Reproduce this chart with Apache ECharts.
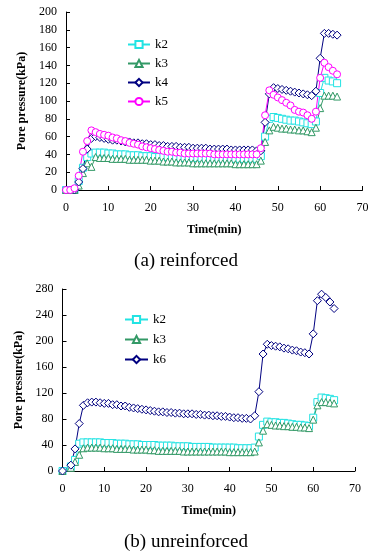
<!DOCTYPE html>
<html><head><meta charset="utf-8">
<script src="https://cdn.jsdelivr.net/npm/echarts@6/dist/echarts.min.js"></script>
<style>html,body{margin:0;padding:0;background:#fff}#c{width:372px;height:555px}</style>
</head><body><div id="c"></div>
<script>
// ---- Chart (a) reinforced ----
var timeA = [0,1,2,3,4,5,6,7,8,9,10,11,12,13,14,15,16,17,18,19,20,21,22,23,24,25,26,27,28,29,30,31,32,33,34,35,36,37,38,39,40,41,42,43,44,45,46,47,48,49,50,51,52,53,54,55,56,57,58,59,60,61,62,63,64];
var k2A = [0,0,0,10,25,37,41,42,42,42,41,41,40,40,40,39,39,39,38,38,38,37,37,37,37,36,36,36,36,36,36,36,36,35,35,35,35,35,35,35,35,35,35,35,35,35,38,60,80,82,81,80,79,78,78,77,76,75,74,77,109,126,123,122,120];
var k3A = [0,0,0,5,19,30,26,37,36,36,36,35,35,35,35,34,34,34,34,34,33,33,33,32,32,32,31,31,31,31,30,30,30,30,30,30,30,30,30,30,29,29,29,29,29,29,33,54,67,71,70,69,69,68,68,67,67,66,65,70,92,106,106,106,105];
var k4A = [0,0,0,9,24,46,58,60,59,58,57,56,56,55,54,54,53,53,52,52,51,51,50,50,49,49,49,48,48,48,47,47,47,47,46,46,46,46,46,45,45,45,45,45,45,44,44,76,108,115,114,113,112,111,110,109,108,107,106,111,148,176,176,175,174];
var k5A = [0,0,2,16,43,55,67,65,63,62,61,59,58,56,55,53,52,51,49,48,47,46,45,44,43,43,42,42,41,41,41,41,41,41,41,40,40,40,40,40,40,40,40,40,40,40,47,84,112,107,104,101,98,95,90,88,87,84,80,88,126,143,138,134,130];
// ---- Chart (b) unreinforced ----
var timeB = [0,2,3,4,5,6,7,8,9,10,11,12,13,14,15,16,17,18,19,20,21,22,23,24,25,26,27,28,29,30,31,32,33,34,35,36,37,38,39,40,41,42,43,44,45,46,47,48,49,50,51,52,53,54,55,56,57,58,59,60,61,62,63,64,65];
var k2B = [0,7,17,42,44,44,44,44,44,43,43,43,42,42,42,41,41,41,40,40,40,40,39,39,39,39,38,38,38,38,37,37,37,37,37,36,36,36,36,36,36,35,35,35,35,36,53,71,76,75,75,74,74,73,72,71,71,70,69,82,106,113,112,111,109];
var k3B = [0,5,14,25,35,36,36,36,36,35,35,35,34,34,34,34,33,33,33,33,32,32,31,31,31,31,31,31,30,30,30,30,30,30,30,30,30,30,30,29,29,29,29,29,29,30,44,62,72,71,70,70,69,69,68,68,67,67,66,79,101,106,106,105,104];
var k6B = [0,9,34,73,101,105,106,106,105,104,104,102,102,100,100,98,97,96,95,94,93,92,91,91,90,90,89,89,88,88,88,87,87,86,86,85,85,84,84,83,82,82,81,81,80,85,122,180,195,193,192,191,189,188,186,185,183,182,180,211,262,272,267,260,250];

var xTicksA = [0,10,20,30,40,50,60,70];
var yTicksA = [0,20,40,60,80,100,120,140,160,180,200];
var xTicksB = [0,10,20,30,40,50,60,70];
var yTicksB = [0,40,80,120,160,200,240,280];

function pairs(t, v){ var out=[]; for (var i=0;i<t.length;i++) out.push([t[i], v[i]]); return out; }

var FONT = '"Liberation Serif", "Times New Roman", serif';
var C = {k2:'#22E3E3', k3:'#339966', k4:'#000080', k5:'#FF00FF', k6:'#000080'};
var SYM = {k2:'rect', k3:'triangle', k4:'diamond', k5:'circle', k6:'diamond'};

function ser(name, t, v, idx){
  return {
    name: name, type: 'line', xAxisIndex: idx, yAxisIndex: idx,
    data: pairs(t, v), symbol: SYM[name], symbolSize: (name==='k4'||name==='k6')?8:7,
    showAllSymbol: true,
    lineStyle: {color: C[name], width: 1},
    itemStyle: {color: '#fff', borderColor: C[name], borderWidth: 1},
    animation: false
  };
}

function xAx(idx, ticks){
  return {
    gridIndex: idx, type: 'value', min: ticks[0], max: ticks[ticks.length-1], interval: ticks[1]-ticks[0],
    name: 'Time(min)', nameLocation: 'middle', nameGap: 34,
    nameTextStyle: {fontFamily: FONT, fontWeight: 'bold', fontSize: 12, color: '#000'},
    axisLine: {lineStyle: {color: '#000', width: 1}},
    axisTick: {inside: true, length: 4, lineStyle: {color: '#000'}},
    axisLabel: {fontFamily: FONT, fontSize: 12, color: '#000', margin: 12},
    splitLine: {show: false}
  };
}
function yAx(idx, ticks){
  return {
    gridIndex: idx, type: 'value', min: ticks[0], max: ticks[ticks.length-1], interval: ticks[1]-ticks[0],
    name: 'Pore pressure(kPa)', nameLocation: 'middle', nameGap: 38,
    nameTextStyle: {fontFamily: FONT, fontWeight: 'bold', fontSize: 12, color: '#000'},
    axisLine: {show: true, lineStyle: {color: '#000', width: 1}},
    axisTick: {show: true, inside: true, length: 4, lineStyle: {color: '#000'}},
    axisLabel: {fontFamily: FONT, fontSize: 12, color: '#000', margin: 9},
    splitLine: {show: false}
  };
}

var chart = echarts.init(document.getElementById('c'), null, {renderer: 'canvas'});
chart.setOption({
  animation: false,
  backgroundColor: '#fff',
  grid: [
    {left: 66, top: 12, width: 296.5, height: 178},
    {left: 62.5, top: 289, width: 292.5, height: 182}
  ],
  xAxis: [xAx(0, xTicksA), xAx(1, xTicksB)],
  yAxis: [yAx(0, yTicksA), yAx(1, yTicksB)],
  legend: [
    {data: ['k2','k3','k4','k5'], orient: 'vertical', left: 122, top: 33, itemWidth: 22, itemHeight: 9, itemGap: 6,
     textStyle: {fontFamily: FONT, fontSize: 13, color: '#000'}},
    {data: ['k2','k3','k6'], orient: 'vertical', left: 119, top: 308, itemWidth: 23, itemHeight: 9, itemGap: 7,
     textStyle: {fontFamily: FONT, fontSize: 13, color: '#000'}}
  ],
  graphic: [
    {type: 'text', left: 'center', top: 252, style: {text: '(a) reinforced', font: '19px ' + FONT, fill: '#000'}},
    {type: 'text', left: 'center', top: 533, style: {text: '(b) unreinforced', font: '19px ' + FONT, fill: '#000'}}
  ],
  series: [
    ser('k2', timeA, k2A, 0), ser('k3', timeA, k3A, 0), ser('k4', timeA, k4A, 0), ser('k5', timeA, k5A, 0),
    ser('k2', timeB, k2B, 1), ser('k3', timeB, k3B, 1), ser('k6', timeB, k6B, 1)
  ]
});
</script></body></html>
